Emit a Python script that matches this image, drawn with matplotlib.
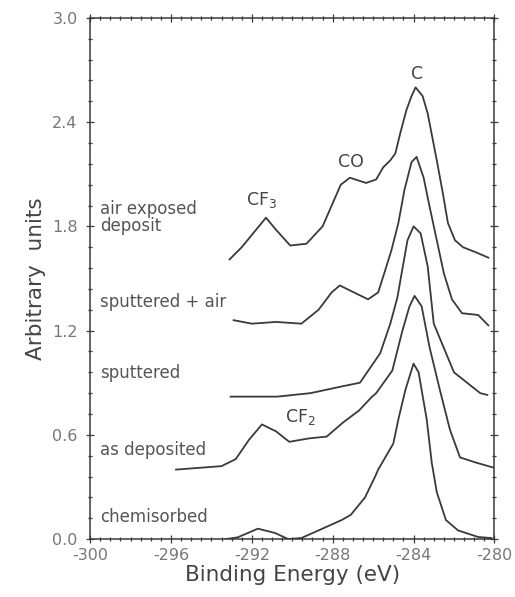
import numpy as np
import matplotlib
matplotlib.use("Agg")
import matplotlib.pyplot as plt
from matplotlib.ticker import MultipleLocator

# spectra (binding energy in eV, intensity in arbitrary units)
air_E = [-293.1, -292.5, -291.3, -290.8, -290.1, -289.3, -288.5, -287.6, -287.15,
         -286.35, -285.85, -285.5, -285.15, -284.9, -284.65, -284.35, -284.1, -283.9,
         -283.55, -283.3, -283.1, -282.85, -282.55, -282.3, -281.95, -281.55, -280.9, -280.3]
air_I = [1.61, 1.68, 1.85, 1.78, 1.69, 1.70, 1.80, 2.04, 2.08,
         2.05, 2.07, 2.14, 2.18, 2.22, 2.34, 2.47, 2.55, 2.60,
         2.55, 2.45, 2.33, 2.18, 1.99, 1.82, 1.72, 1.68, 1.65, 1.62]

spair_E = [-292.9, -292.0, -290.8, -289.55, -288.7, -288.05, -287.65, -286.95, -286.25,
           -285.75, -285.45, -285.1, -284.75, -284.45, -284.1, -283.85, -283.5, -283.2,
           -282.85, -282.5, -282.1, -281.6, -280.8, -280.3]
spair_I = [1.26, 1.24, 1.25, 1.24, 1.32, 1.42, 1.46, 1.42, 1.38,
           1.42, 1.53, 1.66, 1.82, 2.01, 2.17, 2.20, 2.08, 1.91,
           1.72, 1.53, 1.38, 1.30, 1.29, 1.23]

sput_E = [-293.05, -290.75, -289.1, -287.5, -286.65, -285.65, -285.15, -284.8, -284.65,
          -284.3, -284.0, -283.65, -283.3, -283.0, -282.5, -282.0, -281.35, -280.7, -280.35]
sput_I = [0.82, 0.82, 0.84, 0.88, 0.90, 1.07, 1.24, 1.39, 1.49,
          1.72, 1.80, 1.76, 1.57, 1.24, 1.10, 0.96, 0.90, 0.84, 0.83]

dep_E = [-295.75, -293.5, -292.8, -292.15, -291.5, -290.8, -290.15, -289.15, -288.3,
         -287.5, -286.7, -286.05, -285.85, -285.05, -284.55, -284.2, -283.95, -283.6,
         -283.2, -282.7, -282.2, -281.7, -280.9, -280.0]
dep_I = [0.40, 0.42, 0.46, 0.57, 0.66, 0.62, 0.56, 0.58, 0.59,
         0.67, 0.74, 0.82, 0.84, 0.97, 1.20, 1.34, 1.40, 1.34,
         1.10, 0.86, 0.63, 0.47, 0.44, 0.41]

chem_E = [-293.3, -292.7, -291.7, -290.85, -290.2, -289.55, -288.7, -287.55, -287.1,
          -286.4, -285.9, -285.75, -285.25, -285.0, -284.75, -284.4, -284.0, -283.75,
          -283.35, -283.1, -282.85, -282.4, -281.8, -280.8, -280.15]
chem_I = [0.0, 0.01, 0.06, 0.035, 0.0, 0.006, 0.05, 0.11, 0.14,
          0.24, 0.36, 0.40, 0.50, 0.55, 0.69, 0.86, 1.01, 0.96,
          0.69, 0.44, 0.27, 0.11, 0.05, 0.012, 0.006]

curves = [(air_E, air_I), (spair_E, spair_I), (sput_E, sput_I),
          (dep_E, dep_I), (chem_E, chem_I)]

names = ["air exposed\ndeposit", "sputtered + air", "sputtered", "as deposited", "chemisorbed"]
name_y = [1.85, 1.365, 0.955, 0.51, 0.127]

peaks = ["C", "CO", "CF$_3$", "CF$_2$"]
peak_E = [-283.85, -287.1, -291.5, -289.6]
peak_I = [2.68, 2.17, 1.95, 0.70]

xticks = np.arange(-300, -279, 4)
yticks = np.arange(0, 3.01, 0.6)

ink = "#3a3a3a"

fig = plt.figure(figsize=(5.15, 5.97), dpi=100)
ax = fig.add_axes([0.175, 0.097, 0.785, 0.873])

for E, I in curves:
    ax.plot(E, I, color=ink, lw=1.3)

for n, y in zip(names, name_y):
    ax.text(-299.5, y, n, fontsize=12, color="#555555", va="center", ha="left",
            linespacing=0.95)

for p, x, y in zip(peaks, peak_E, peak_I):
    ax.text(x, y, p, fontsize=12.5, color="#444444", ha="center", va="center")

ax.set_xticks(xticks)
ax.set_xticklabels(["%d" % v for v in xticks])
ax.set_yticks(yticks)
ax.set_yticklabels(["%.1f" % v for v in yticks])
ax.xaxis.set_minor_locator(MultipleLocator(0.5))
ax.yaxis.set_minor_locator(MultipleLocator(0.12))
ax.set_xlim(-300, -280)
ax.set_ylim(0, 3.0)

ax.tick_params(which="both", direction="inout", top=True, right=True,
               color=ink, labelsize=11.5, labelcolor="#777777", width=0.9)
ax.tick_params(which="major", length=6)
ax.tick_params(which="minor", length=3)
ax.tick_params(axis="y", pad=6)
for s in ax.spines.values():
    s.set_color(ink)
    s.set_linewidth(1.1)

ax.set_xlabel("Binding Energy (eV)", fontsize=15.5, color="#444444", labelpad=1)
ax.set_ylabel("Arbitrary  units", fontsize=15.5, color="#444444", labelpad=4)

fig.savefig("out.png", dpi=100)
